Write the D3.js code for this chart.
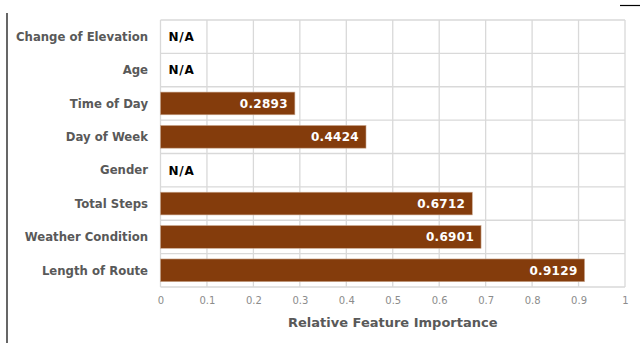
<!DOCTYPE html>
<html>
<head>
<meta charset="utf-8">
<script src="https://cdn.jsdelivr.net/npm/d3@7"></script>
<style>
  html, body { margin: 0; padding: 0; background: #fff; }
  svg { display: block; font-family: "DejaVu Sans", Verdana, sans-serif; }
</style>
</head>
<body>
<svg id="chart" width="640" height="343"></svg>
<script>
// Feature names, top to bottom
const categories = [
  "Change of Elevation", "Age", "Time of Day", "Day of Week",
  "Gender", "Total Steps", "Weather Condition", "Length of Route"
];
// Relative importance per feature (null = not available)
const importance = [null, null, 0.2893, 0.4424, null, 0.6712, 0.6901, 0.9129];
const xTicks = [0, 0.1, 0.2, 0.3, 0.4, 0.5, 0.6, 0.7, 0.8, 0.9, 1];
const tickLabels = ["0", "0.1", "0.2", "0.3", "0.4", "0.5", "0.6", "0.7", "0.8", "0.9", "1"];

const svg = d3.select("#chart");
const m = { left: 160.5, right: 625, top: 20, bottom: 287 };

const x = d3.scaleLinear().domain([0, 1]).range([m.left, m.right]);
const y = d3.scaleBand().domain(categories).range([m.top, m.bottom]).paddingInner(0.32).paddingOuter(0.16);
const band = d3.scaleBand().domain(categories).range([m.top, m.bottom]);

const data = categories.map((c, i) => ({ name: c, value: importance[i] }));

// Gridlines
const grid = svg.append("g").attr("stroke", "#d9d9d9").attr("stroke-width", 1.3);
grid.selectAll("line.v").data(xTicks).join("line")
  .attr("x1", d => x(d)).attr("x2", d => x(d))
  .attr("y1", m.top).attr("y2", m.bottom);
grid.selectAll("line.h").data(d3.range(categories.length + 1)).join("line")
  .attr("x1", m.left).attr("x2", m.right)
  .attr("y1", i => m.top + i * band.bandwidth())
  .attr("y2", i => m.top + i * band.bandwidth());

// Bars
svg.append("g").selectAll("rect").data(data.filter(d => d.value != null)).join("rect")
  .attr("x", x(0))
  .attr("y", d => y(d.name))
  .attr("width", d => x(d.value) - x(0))
  .attr("height", y.bandwidth())
  .attr("fill", "#843c0c")
  .attr("stroke", "#c8a58c")
  .attr("stroke-width", 0.6);

// Value labels inside bars, N/A markers otherwise
svg.append("g").selectAll("text").data(data).join("text")
  .attr("x", d => d.value != null ? x(d.value) - 7 : x(0) + 8)
  .attr("y", d => band(d.name) + band.bandwidth() / 2)
  .attr("dy", "0.36em")
  .attr("text-anchor", d => d.value != null ? "end" : "start")
  .attr("font-size", 12)
  .attr("font-weight", "bold")
  .attr("letter-spacing", d => d.value != null ? 0.3 : 0.8)
  .attr("fill", d => d.value != null ? "#ffffff" : "#000000")
  .text(d => d.value != null ? d.value.toFixed(4) : "N/A");

// Category labels
svg.append("g").selectAll("text").data(categories).join("text")
  .attr("x", 148)
  .attr("y", d => band(d) + band.bandwidth() / 2)
  .attr("dy", "0.36em")
  .attr("text-anchor", "end")
  .attr("font-size", 11.7)
  .attr("font-weight", "bold")
  .attr("fill", "#595959")
  .text(d => d);

// X axis tick labels
const xAxis = d3.axisBottom(x).tickValues(xTicks)
  .tickFormat((d, i) => tickLabels[i]).tickSize(0).tickPadding(10);
const ax = svg.append("g").attr("transform", `translate(0,${m.bottom})`).call(xAxis);
ax.select(".domain").remove();
ax.selectAll("text").attr("font-size", 10).attr("fill", "#8c8c8c")
  .attr("font-family", "DejaVu Sans, Verdana, sans-serif");

// Axis title
svg.append("text")
  .attr("x", (m.left + m.right) / 2).attr("y", 327)
  .attr("text-anchor", "middle")
  .attr("font-size", 13).attr("font-weight", "bold").attr("fill", "#595959")
  .text("Relative Feature Importance");

// Frame edges
svg.append("line").attr("x1", 7).attr("x2", 7).attr("y1", 13).attr("y2", 343)
  .attr("stroke", "#000").attr("stroke-width", 1.2);
svg.append("line").attr("x1", 620).attr("x2", 640).attr("y1", 5.5).attr("y2", 5.5)
  .attr("stroke", "#000").attr("stroke-width", 1.2);
</script>
</body>
</html>
